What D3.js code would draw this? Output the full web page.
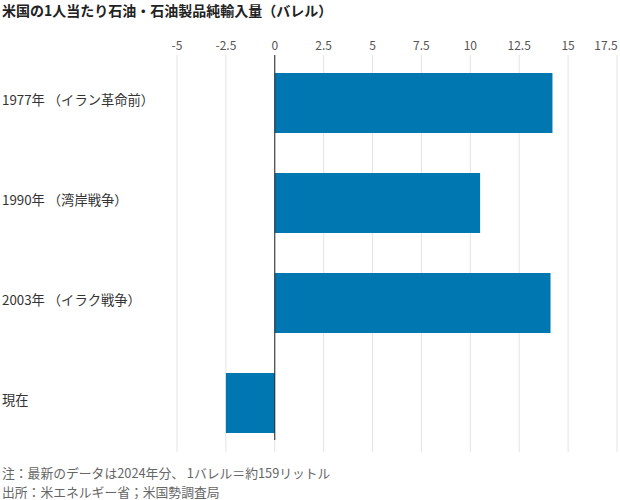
<!DOCTYPE html>
<html><head><meta charset="utf-8">
<script src="https://cdn.jsdelivr.net/npm/d3@7"></script>
<style>body{margin:0;background:#fff;font-family:"Noto Sans CJK JP","Noto Sans",sans-serif;}</style>
</head><body><svg id="c" width="620" height="500"></svg>
<script>
const categories = ["1977年 （イラン革命前）","1990年 （湾岸戦争）","2003年 （イラク戦争）","現在"];
const values = [14.2, 10.5, 14.1, -2.5];
const tickValues = [-5,-2.5,0,2.5,5,7.5,10,12.5,15,17.5];
const title = "米国の1人当たり石油・石油製品純輸入量（バレル）";
const notes = ["注：最新のデータは2024年分、 1バレル＝約159リットル","出所：米エネルギー省；米国勢調査局"];

const svg = d3.select("#c");
const x = d3.scaleLinear().domain([-5,17.5]).range([177,617]);
const y = d3.scaleBand().domain(categories).range([53,453]).paddingInner(0.4).paddingOuter(0.2);

svg.append("text").attr("x",2).attr("y",16).attr("font-size",14).attr("font-weight","bold").attr("fill","#222").text(title);

svg.append("g").selectAll("line").data(tickValues).join("line")
  .attr("x1",d=>x(d)).attr("x2",d=>x(d)).attr("y1",55).attr("y2",452)
  .attr("stroke","#e3e3e3").attr("stroke-width",1);
svg.append("g").selectAll("text").data(tickValues).join("text")
  .attr("x",(d,i)=>i===tickValues.length-1?x(d)-11:x(d)).attr("y",50).attr("text-anchor","middle")
  .attr("font-size",12).attr("fill","#555").text(d=>d);

svg.append("g").selectAll("rect").data(values).join("rect")
  .attr("x",d=>x(Math.min(0,d))).attr("width",d=>Math.abs(x(d)-x(0)))
  .attr("y",(d,i)=>y(categories[i])).attr("height",y.bandwidth())
  .attr("fill","#0077b0");

svg.append("line").attr("x1",x(0)).attr("x2",x(0)).attr("y1",55).attr("y2",440)
  .attr("stroke","#222").attr("stroke-width",1);

svg.append("g").selectAll("text").data(categories).join("text")
  .attr("x",2).attr("y",d=>y(d)+y.bandwidth()/2-2).attr("dominant-baseline","middle")
  .attr("font-size",13.3).attr("fill","#333").text(d=>d);

svg.append("g").selectAll("text").data(notes).join("text")
  .attr("x",2).attr("y",(d,i)=>478+i*19).attr("font-size",12.8).attr("fill","#666").text(d=>d);
</script></body></html>
